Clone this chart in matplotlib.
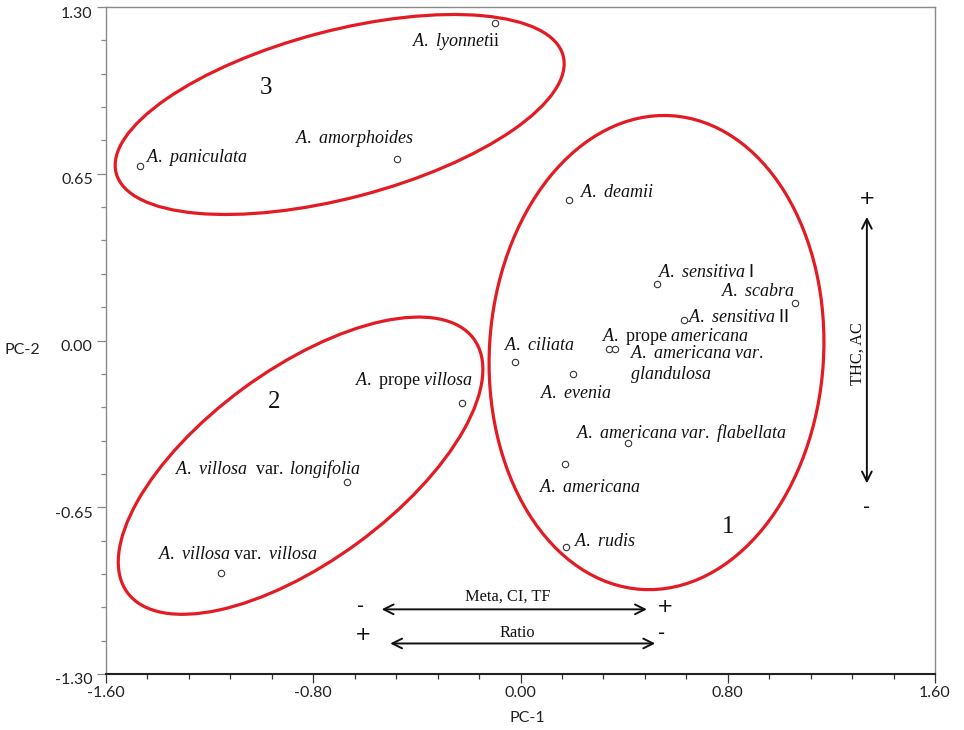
import matplotlib
matplotlib.use("Agg")
import matplotlib.pyplot as plt
import matplotlib.transforms as mtransforms
from matplotlib.patches import Ellipse
from matplotlib.ticker import MultipleLocator, FixedLocator

plt.rcParams['mathtext.fontset'] = 'custom'
plt.rcParams['mathtext.rm'] = 'Liberation Serif'
plt.rcParams['mathtext.it'] = 'Liberation Serif:italic'
plt.rcParams['mathtext.sf'] = 'Lato'

# ---------------- data ----------------
species = ["A. lyonnetii", "A. paniculata", "A. amorphoides", "A. deamii",
           "A. sensitiva I", "A. scabra", "A. sensitiva II", "A. prope americana",
           "A. americana var. glandulosa", "A. ciliata", "A. evenia",
           "A. prope villosa", "A. villosa var. longifolia", "A. villosa var. villosa",
           "A. americana var. flabellata", "A. americana", "A. rudis"]
pc1 = [-0.098, -1.469, -0.478, 0.186, 0.526, 1.060, 0.633, 0.341,
       0.363, -0.021, 0.204, -0.227, -0.671, -1.157, 0.414, 0.172, 0.175]
pc2 = [1.238, 0.681, 0.707, 0.548, 0.221, 0.145, 0.078, -0.035,
       -0.035, -0.083, -0.130, -0.245, -0.553, -0.908, -0.399, -0.483, -0.806]

# rich labels: segments of (text, style) where style i=italic, r=roman, s=sans
label_segments = [
    [("A. lyonnet", "i"), ("ii", "r")],
    [("A. paniculata", "i")],
    [("A. amorphoides", "i")],
    [("A. deamii", "i")],
    [("A. sensitiva ", "i"), ("I", "s")],
    [("A. scabra", "i")],
    [("A. sensitiva ", "i"), ("II", "s")],
    [("A. ", "i"), ("prope ", "r"), ("americana", "i")],
    [("A. americana var.", "i")],
    [("A. ciliata", "i")],
    [("A. evenia", "i")],
    [("A. ", "i"), ("prope ", "r"), ("villosa", "i")],
    [("A. villosa ", "i"), (" var. ", "r"), ("longifolia", "i")],
    [("A. villosa ", "i"), ("var. ", "r"), ("villosa", "i")],
    [("A. americana var. flabellata", "i")],
    [("A. americana", "i")],
    [("A. rudis", "i")],
]
extra_lines = {8: [("glandulosa", "i")]}

# label placement: (ha, dx px, dy px)
label_pos = [("right", 5, -23), ("left", 6, 4), ("center", -42, 16), ("left", 11, 3),
             ("left", 1, 7), ("right", 0, 7.6), ("left", 4, -2), ("left", -7, 8.6),
             ("left", 15, -9), ("left", -11, 12), ("left", -33, -24),
             ("right", 11.6, 18), ("right", 14, 8), ("left", -62.4, 14),
             ("left", -51.7, 4.4), ("left", -25.7, -28), ("left", 8.3, 1.6)]
extra_pos = {8: ("left", 15.7, -30)}

# cluster ellipses: centre x, centre y, width, height, angle
clusters = ["1", "2", "3"]
ell_cx = [0.525, -0.849, -0.698]
ell_cy = [-0.047, -0.488, 0.881]
ell_w = [1.85, 1.663, 1.785]
ell_h = [1.29, 0.747, 0.652]
ell_ang = [86.5, 36.6, 14.9]
clabel_x = [0.80, -0.951, -0.983]
clabel_y = [-0.751, -0.263, 0.961]

xticks = [-1.60, -0.80, 0.00, 0.80, 1.60]
yticks = [-1.30, -0.65, 0.00, 0.65, 1.30]


def rich(segs):
    parts = []
    for t, s in segs:
        t = t.replace(" ", r"\ ")
        if s == "i":
            parts.append(r"\mathit{" + t + "}")
        elif s == "s":
            parts.append(r"\mathsf{" + t + "}")
        else:
            parts.append(r"\mathrm{" + t + "}")
    return "$" + "".join(parts) + "$"


fig = plt.figure(figsize=(9.64, 7.30), dpi=100)
ax = fig.add_axes([106 / 964, 1 - 674 / 730, (935 - 106) / 964, (674 - 7) / 730])
ax.set_xlim(-1.6, 1.6)
ax.set_ylim(-1.3, 1.3)

# ellipses
for cx, cy, w, h, a in zip(ell_cx, ell_cy, ell_w, ell_h, ell_ang):
    ax.add_patch(Ellipse((cx, cy), w, h, angle=a, fill=False,
                         edgecolor="#e31b23", linewidth=2.3, zorder=2))
for t, x, y in zip(clusters, clabel_x, clabel_y):
    ax.text(x, y, t, fontsize=18, family="Liberation Serif", ha="center",
            va="baseline", color="#111111")

# points
ax.plot(pc1, pc2, linestyle="none", marker="o", markersize=4.6,
        markerfacecolor="white", markeredgecolor="#333333",
        markeredgewidth=0.8, zorder=3)

pt = 0.72
FS = 13
for i, (segs, (ha, dx, dy)) in enumerate(zip(label_segments, label_pos)):
    ax.annotate(rich(segs), (pc1[i], pc2[i]), xytext=(dx * pt, dy * pt),
                textcoords="offset points", ha=ha, va="baseline",
                fontsize=FS, color="#111111")
for i, segs in extra_lines.items():
    ha, dx, dy = extra_pos[i]
    ax.annotate(rich(segs), (pc1[i], pc2[i]), xytext=(dx * pt, dy * pt),
                textcoords="offset points", ha=ha, va="baseline",
                fontsize=FS, color="#111111")

# direction arrows
arrow_kw = dict(arrowstyle="<->,head_length=0.7,head_width=0.35",
                color="#111111", lw=1.4, shrinkA=0, shrinkB=0)
ax.annotate("", xy=(0.488, -1.048), xytext=(-0.536, -1.048), arrowprops=arrow_kw)
ax.annotate("", xy=(0.520, -1.181), xytext=(-0.503, -1.181), arrowprops=arrow_kw)
ax.annotate("", xy=(1.337, 0.482), xytext=(1.337, -0.557), arrowprops=arrow_kw)
ax.text(-0.048, -1.0, "Meta, CI, TF", family="Liberation Serif", fontsize=11.8,
        ha="center", va="center", color="#111111")
ax.text(-0.011, -1.142, "Ratio", family="Liberation Serif", fontsize=11.8,
        ha="center", va="center", color="#111111")
ax.text(1.301, -0.05, "THC, AC", family="Liberation Serif", fontsize=11.8,
        ha="center", va="center", rotation=90, color="#111111")
sign_kw = dict(fontsize=14, family="DejaVu Sans", ha="center", va="center",
               color="#111111")
ax.text(-0.619, -1.038, "-", **sign_kw)
ax.text(0.558, -1.035, "+", **sign_kw)
ax.text(-0.608, -1.147, "+", **sign_kw)
ax.text(0.546, -1.144, "-", **sign_kw)
ax.text(1.337, 0.554, "+", **sign_kw)
ax.text(1.337, -0.651, "-", **sign_kw)

# axes styling
ax.xaxis.set_major_locator(FixedLocator(xticks))
ax.yaxis.set_major_locator(FixedLocator(yticks))
ax.xaxis.set_minor_locator(MultipleLocator(0.16))
ax.yaxis.set_minor_locator(MultipleLocator(0.13))
ax.set_xticklabels([f"{v:.2f}" for v in xticks])
ax.set_yticklabels([f"{v:.2f}" for v in yticks])
ax.tick_params(axis="y", which="major", direction="out", length=6.5, width=0.9,
               color="#888888", pad=3)
ax.tick_params(axis="y", which="minor", direction="out", length=3.6, width=0.9,
               color="#888888")
ax.tick_params(axis="x", which="major", direction="out", length=6.5, width=0.9,
               color="#333333", pad=2)
ax.tick_params(axis="x", which="minor", direction="out", length=3.6, width=0.9,
               color="#333333")
for lab in ax.get_xticklabels() + ax.get_yticklabels():
    lab.set_family("Lato")
    lab.set_fontsize(11.5)
    lab.set_color("#222222")
ydown = mtransforms.ScaledTranslation(0, -0.05, fig.dpi_scale_trans)
for lab in ax.yaxis.get_majorticklabels():
    lab.set_transform(lab.get_transform() + ydown)
for s in ["top", "right", "left"]:
    ax.spines[s].set_color("#8a8a8a")
    ax.spines[s].set_linewidth(1.0)
ax.spines["bottom"].set_color("#222222")
ax.spines["bottom"].set_linewidth(1.5)

fig.text(527 / 964, 1 - 718 / 730, "PC-1", family="Lato", fontsize=11.5,
         ha="center", va="center", color="#222222")
fig.text(22 / 964, 1 - 350 / 730, "PC-2", family="Lato", fontsize=11.5,
         ha="center", va="center", color="#222222")

fig.savefig("out.png", dpi=100)
